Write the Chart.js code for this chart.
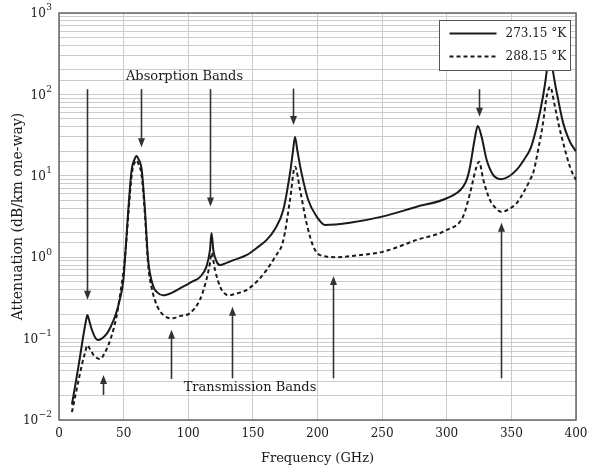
<!DOCTYPE html>
<html>
<head>
<meta charset="utf-8">
<script src="https://cdn.jsdelivr.net/npm/chart.js@4.4.1/dist/chart.umd.min.js"></script>
<style>
body { margin: 0; background: #fff; }
#wrap { width: 590px; height: 466px; }
</style>
</head>
<body>
<div id="wrap"><canvas id="attChart"></canvas></div>
<script>
// 273.15 K (solid)
const coldFreq = [10, 15, 18, 20, 21, 22, 23, 25, 28, 30, 33, 37, 40, 44, 47, 49.8, 51, 53.6, 56.2, 58.5, 60, 61.5, 64, 66.5, 69, 73, 76, 80.5, 88, 96, 103, 109, 114, 116.8, 118, 119.4, 122, 124.6, 127, 135, 145, 153, 160.7, 167, 173.5, 178.7, 181, 182.6, 184.5, 187.7, 192.9, 199.4, 205.8, 225, 250, 276.7, 300, 312.6, 316, 318, 321.9, 324, 327, 330.9, 336, 342.5, 348, 354, 360, 365, 369.6, 374.5, 377.3, 379.5, 381.5, 384, 386, 388, 390, 393, 396, 400];
const coldAtt = [0.0155, 0.045, 0.09, 0.14, 0.17, 0.195, 0.175, 0.135, 0.103, 0.096, 0.1, 0.115, 0.14, 0.2, 0.3, 0.52, 0.92, 3.8, 11.8, 16, 17.5, 16, 11.8, 3.8, 0.92, 0.435, 0.37, 0.34, 0.37, 0.435, 0.5, 0.57, 0.76, 1.22, 1.98, 1.22, 0.88, 0.8, 0.82, 0.92, 1.06, 1.3, 1.63, 2.2, 3.8, 10.7, 20, 30, 20, 10.7, 5.0, 3.15, 2.49, 2.65, 3.15, 4.17, 5.3, 7.3, 9.5, 12.9, 30, 41, 30, 15.6, 10.2, 9.1, 9.8, 11.8, 16, 22, 40, 95, 190, 450, 230, 130, 90, 62, 45, 32, 25, 20];

// 288.15 K (dashed)
const warmFreq = [10, 15, 18, 20, 22, 24, 27, 31.7, 35, 40, 44.6, 47.2, 50, 52, 54, 56.5, 58.5, 60, 61.5, 64, 66.5, 69, 72, 76, 80, 87, 94, 101, 109, 114, 116.8, 118, 120.7, 124.6, 128, 131, 138, 145, 153, 160.7, 167, 173.5, 178.7, 182.6, 186.5, 191.6, 196.8, 202, 215, 230, 251, 276.7, 300, 312.6, 318, 323, 325, 328.3, 333.5, 338, 342.5, 348, 354, 360, 364.4, 367, 371, 374.5, 377.3, 380, 383.7, 387, 390.5, 394, 397, 400];
const warmAtt = [0.0125, 0.03, 0.05, 0.066, 0.083, 0.074, 0.062, 0.056, 0.065, 0.1, 0.19, 0.34, 0.7, 1.5, 4, 11, 14.5, 15.5, 14, 10, 3.3, 0.8, 0.4, 0.25, 0.2, 0.177, 0.19, 0.204, 0.3, 0.525, 0.85, 1.13, 0.7, 0.435, 0.36, 0.34, 0.36, 0.395, 0.5, 0.7, 1.0, 1.6, 5.0, 12.9, 6.7, 2.6, 1.35, 1.06, 1.0, 1.05, 1.17, 1.63, 2.16, 3.15, 6.1, 12.9, 14.9, 8.9, 5.0, 4.0, 3.6, 3.9, 4.6, 6.5, 8.9, 11, 22, 44.6, 94, 124, 70.6, 40, 24, 15, 11, 8.9];

const seriesNames = ['273.15 °K', '288.15 °K'];
const yTickExp = ['−2', '−1', '0', '1', '2', '3'];

// annotation arrows in data units: [freq, from, to] (head at "to")
const absorptionArrows = [[21.4, 116, 0.3], [63.2, 116, 22.4], [116.8, 116, 4.2], [181.3, 118, 42], [324.7, 116, 53]];
const transmissionArrows = [[33.8, 0.0203, 0.0357], [86.4, 0.0319, 0.128], [134.1, 0.0325, 0.247], [212.2, 0.0325, 0.587], [341.7, 0.0325, 2.65]];

const serif = 'DejaVu Serif';
const ink = '#1a1a1a';

function arrow(ctx, x, y0, y1) {
  const dir = y1 > y0 ? 1 : -1;
  ctx.beginPath();
  ctx.moveTo(x, y0);
  ctx.lineTo(x, y1 - dir * 7);
  ctx.stroke();
  ctx.beginPath();
  ctx.moveTo(x, y1);
  ctx.lineTo(x - 3.5, y1 - dir * 9);
  ctx.lineTo(x + 3.5, y1 - dir * 9);
  ctx.closePath();
  ctx.fill();
}

const extras = {
  id: 'extras',
  beforeDatasetsDraw(chart) {
    const {ctx, chartArea: a} = chart;
    ctx.save();
    ctx.strokeStyle = '#666';
    ctx.lineWidth = 1.5;
    ctx.strokeRect(a.left, a.top, a.right - a.left, a.bottom - a.top);
    ctx.restore();
  },
  afterDatasetsDraw(chart) {
    const {ctx, chartArea: a, scales: {x, y}} = chart;
    ctx.save();

    // y tick labels with raised exponents
    ctx.fillStyle = ink;
    ctx.textBaseline = 'middle';
    ctx.textAlign = 'right';
    yTickExp.forEach((e, i) => {
      const py = y.getPixelForValue(Math.pow(10, i - 2));
      ctx.font = '9px "' + serif + '"';
      const ew = ctx.measureText(e).width;
      const right = a.left - 7;
      ctx.fillText(e, right, py - 5);
      ctx.font = '12px "' + serif + '"';
      ctx.fillText('10', right - ew - 0.5, py + 1);
    });

    ctx.strokeStyle = '#333';
    ctx.fillStyle = '#333';
    ctx.lineWidth = 1.6;
    absorptionArrows.concat(transmissionArrows).forEach(([f, from, to]) => {
      arrow(ctx, Math.round(x.getPixelForValue(f)) + 0.5, y.getPixelForValue(from), y.getPixelForValue(to));
    });

    ctx.fillStyle = ink;
    ctx.font = '13px "' + serif + '"';
    ctx.textAlign = 'center';
    ctx.fillText('Absorption Bands', x.getPixelForValue(97.1), y.getPixelForValue(164));
    ctx.fillText('Transmission Bands', x.getPixelForValue(147.8), y.getPixelForValue(0.0247));

    // legend box
    const bw = 131, bh = 50;
    const bx = a.right - 5.5 - bw, by = a.top + 7.5;
    ctx.fillStyle = '#fff';
    ctx.fillRect(bx, by, bw, bh);
    ctx.strokeStyle = '#555';
    ctx.lineWidth = 1;
    ctx.strokeRect(bx, by, bw, bh);
    ctx.strokeStyle = ink;
    ctx.lineWidth = 2;
    ctx.font = '12px "' + serif + '"';
    [0, 1].forEach(i => {
      const ly = by + 13 + i * 23;
      ctx.setLineDash(i ? [4, 3] : []);
      ctx.beginPath();
      ctx.moveTo(bx + 10, ly);
      ctx.lineTo(bx + 57, ly);
      ctx.stroke();
      ctx.fillStyle = ink;
      ctx.textAlign = 'left';
      ctx.fillText(seriesNames[i], bx + 66, ly);
    });
    ctx.restore();
  }
};

function points(xs, ys) {
  return xs.map((f, i) => ({x: f, y: ys[i]}));
}

new Chart(document.getElementById('attChart'), {
  type: 'line',
  data: {
    datasets: [{
      label: seriesNames[0],
      data: points(coldFreq, coldAtt),
      borderColor: ink,
      borderWidth: 2,
      pointRadius: 0,
      cubicInterpolationMode: 'monotone'
    }, {
      label: seriesNames[1],
      data: points(warmFreq, warmAtt),
      borderColor: ink,
      borderWidth: 2,
      borderDash: [4, 3],
      pointRadius: 0,
      cubicInterpolationMode: 'monotone'
    }]
  },
  plugins: [extras],
  options: {
    responsive: true,
    maintainAspectRatio: false,
    animation: false,
    layout: { padding: { left: 0, right: 14, top: 13, bottom: 0 } },
    plugins: {
      legend: { display: false },
      tooltip: { enabled: false }
    },
    scales: {
      x: {
        type: 'linear',
        min: 0,
        max: 400,
        afterFit: s => { s.height = 46; s.paddingLeft = 0; s.paddingRight = 0; },
        ticks: { stepSize: 50, padding: 7, color: ink, font: { family: serif, size: 12 } },
        grid: { color: '#cccccc', lineWidth: 1, drawTicks: false },
        border: { display: false },
        title: { display: true, text: 'Frequency (GHz)', color: ink, padding: 0, font: { family: serif, size: 13 } }
      },
      y: {
        type: 'logarithmic',
        min: 0.01,
        max: 1000,
        afterFit: s => { s.width = 59; s.paddingTop = 0; s.paddingBottom = 0; },
        ticks: { autoSkip: false, padding: 7, callback: () => '' },
        grid: { color: '#cccccc', lineWidth: 1, drawTicks: false },
        border: { display: false },
        title: { display: true, text: 'Attenuation (dB/km one-way)', color: ink, padding: { top: 10, bottom: 0 }, font: { family: serif, size: 14 } }
      }
    }
  }
});
</script>
</body>
</html>
